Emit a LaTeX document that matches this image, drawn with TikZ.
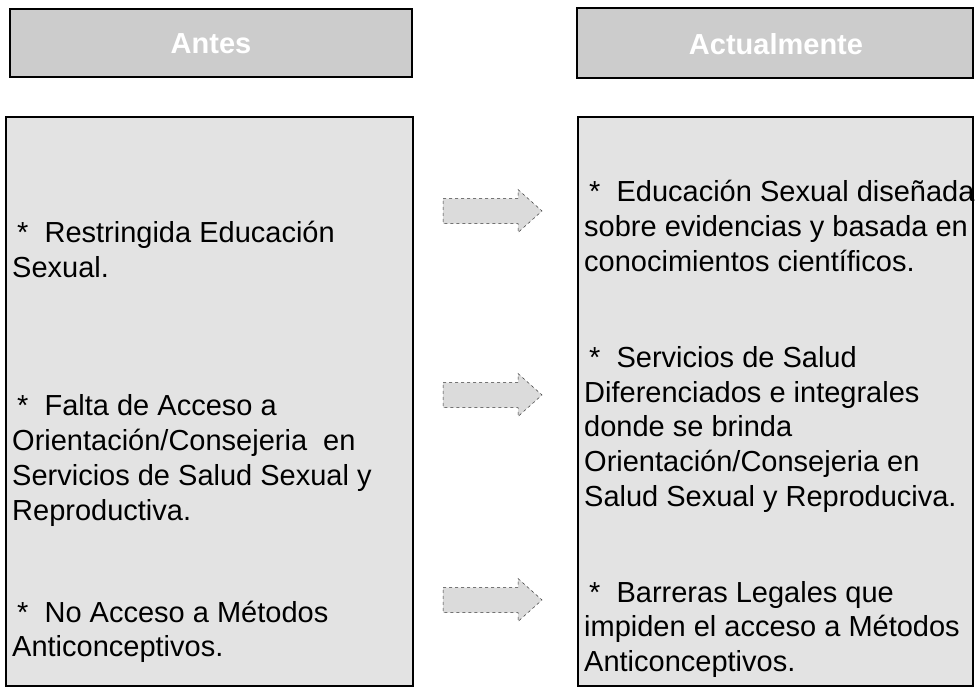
\documentclass[tikz,border=0pt]{standalone}
\usepackage{fontspec}
\setmainfont{Liberation Sans}
\begin{document}
\begin{tikzpicture}[x=1pt,y=-1pt,
  panel/.style={draw=black,line width=1.2pt,fill=gray!22},
  headpanel/.style={draw=black,line width=1.6pt,fill=gray!40},
  headtxt/.style={text=white,font=\fontsize{29}{34}\selectfont\bfseries,inner sep=0},
  txt/.style={anchor=base west,inner sep=0,font=\fontsize{29}{35}\selectfont},
  blockarrow/.pic={\draw[fill=gray!28,draw=black!80,dashed,line width=0.5pt]
     (-49.5,-12.5) -- (25.5,-12.5) -- (25.5,-21.5) -- (49.5,0) -- (25.5,21.5) -- (25.5,12.5) -- (-49.5,12.5) -- cycle;}
]
\useasboundingbox (0,0) rectangle (975,689);
% headers
\draw[headpanel] (10,9) rectangle (412,77);
\node[headtxt] (hl) at (211,44) {Antes};
\draw[headpanel] (577,8) rectangle (973,78);
\node[headtxt] (hr) at (776,44) {Actualmente};
% main panels
\draw[panel] (6,117) rectangle (413,686);
\draw[panel] (578,117) rectangle (973,686);
% arrows
\pic at (492.5,211) {blockarrow};
\pic at (492.5,395) {blockarrow};
\pic at (492.5,600) {blockarrow};
% left texts
\node[txt] (l1) at (17,242) {*\ \ Restringida Educación};
\node[txt] (l2) at (12,277) {Sexual.};
\node[txt] (l3) at (17,415) {*\ \ Falta de Acceso a};
\node[txt] (l4) at (12,450) {Orientación/Consejeria\ \ en};
\node[txt] (l5) at (12,485) {Servicios de Salud Sexual y};
\node[txt] (l6) at (12,520) {Reproductiva.};
\node[txt] (l7) at (17,622) {*\ \ No Acceso a Métodos};
\node[txt] (l8) at (12,656) {Anticonceptivos.};
% right texts
\node[txt] (r1) at (589,201) {*\ \ Educación Sexual diseñada};
\node[txt] (r2) at (584,236) {sobre evidencias y basada en};
\node[txt] (r3) at (584,271) {conocimientos científicos.};
\node[txt] (r4) at (589,367) {*\ \ Servicios de Salud};
\node[txt] (r5) at (584,402) {Diferenciados e integrales};
\node[txt] (r6) at (584,436) {donde se brinda};
\node[txt] (r7) at (584,471) {Orientación/Consejeria en};
\node[txt] (r8) at (584,506) {Salud Sexual y Reproduciva.};
\node[txt] (r9) at (589,602) {*\ \ Barreras Legales que};
\node[txt] (r10) at (584,636) {impiden el acceso a Métodos};
\node[txt] (r11) at (584,671) {Anticonceptivos.};
\end{tikzpicture}
\end{document}
